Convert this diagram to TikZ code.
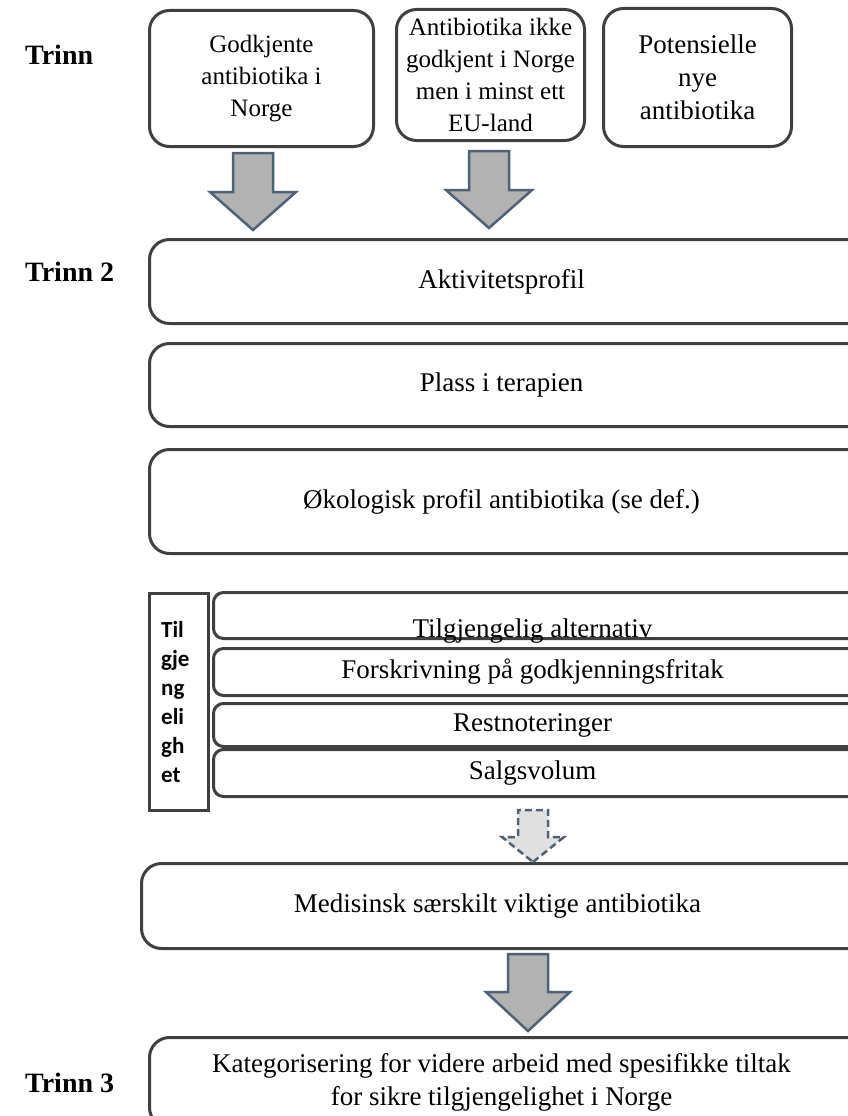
\documentclass[tikz,border=0pt]{standalone}
\usepackage{fontspec}
\setmainfont{Liberation Serif}
\newfontfamily\availfont{Carlito}
\usetikzlibrary{positioning}
\definecolor{boxgray}{rgb}{0.25, 0.25, 0.25}
\definecolor{arrowfill}{rgb}{0.70, 0.70, 0.70}
\definecolor{arrowedge}{rgb}{0.31, 0.38, 0.47}
\definecolor{dashfill}{rgb}{0.88, 0.88, 0.88}
\newcommand{\boxfont}{\fontsize{27}{33}\selectfont}
\newcommand{\srcfont}{\fontsize{25}{32}\selectfont}
\newcommand{\pull}{\hspace*{-22pt}} % the wide boxes run past the right edge, so pull the text back to the visible middle

\tikzset{
    pics/downarrow/.style args={#1/#2/#3/#4}{code={ % length/head/head half width/shaft half width, tip at origin
        \path[pic actions] (0,0) -- (#3,-#2) -- (#4,-#2) -- (#4,-#1) -- (-#4,-#1) -- (-#4,-#2) -- (-#3,-#2) -- cycle;
    }},
}

\begin{document}
\begin{tikzpicture}[x=1pt,y=-1pt,
        stepbox/.style={draw=boxgray,line width=3pt,rounded corners=20pt,fill=white,anchor=north west,inner sep=0pt,align=center,font=\boxfont},
        srcbox/.style={stepbox,font=\srcfont},
        widebox/.style={stepbox,minimum width=726pt},
        stackbox/.style={stepbox,rounded corners=10pt,minimum width=660pt},
        availbox/.style={draw=boxgray,line width=3pt,fill=white,anchor=north west,inner sep=0pt},
        availtext/.style={anchor=north west,align=left,inner sep=0pt,font=\availfont\bfseries\fontsize{23}{29}\selectfont},
        steplabel/.style={anchor=west,inner sep=0pt,font=\bfseries\fontsize{28}{33}\selectfont},
        blockarrow/.style={draw=arrowedge,line width=2.5pt,fill=arrowfill,line join=miter},
        dasharrow/.style={draw=arrowedge,line width=2.5pt,fill=dashfill,dash pattern=on 7pt off 4pt}]
    \useasboundingbox (0,0) rectangle (848,1116);

    % Trinn 1
    \node[steplabel] (t1) at (25,55) {Trinn};
    \node[srcbox,minimum width=224pt,minimum height=136pt] (godk) at (148,9) {Godkjente\\antibiotika i\\Norge};
    \node[srcbox,minimum width=188pt,minimum height=131pt] (eu) at (395,8) {Antibiotika ikke\\godkjent i Norge\\men i minst ett\\EU-land};
    \node[srcbox,font=\boxfont,minimum width=188pt,minimum height=138pt] (nye) at (602,7) {Potensielle\\nye\\antibiotika};

    % Trinn 2
    \node[steplabel] (t2) at (25,272) {Trinn 2};
    \node[widebox,minimum height=84pt] (aktiv) at (148,238) {\pull Aktivitetsprofil};
    \node[widebox,minimum height=83pt] (plass) at (148,342) {\pull Plass i terapien};
    \node[widebox,minimum height=104pt] (okol) at (148,448) {\pull Økologisk profil antibiotika (se def.)};

    \node[availbox,minimum width=59pt,minimum height=217pt] (tilg) at (148,592) {};
    \node[availtext] (tilgtxt) at ([xshift=13pt,yshift=-29pt]tilg.north west) {Til\\gje\\ng\\eli\\gh\\et};
    \node[stackbox,minimum height=46pt,text height=44pt,text depth=0pt] (alt) at (212,591) {\pull Tilgjengelig alternativ};
    \node[stackbox,minimum height=47pt] (forsk) at (212,647) {\pull Forskrivning på godkjenningsfritak};
    \node[stackbox,minimum height=43pt] (rest) at (212,702) {\pull Restnoteringer};
    \node[stackbox,minimum height=47pt] (salg) at (212,748) {\pull Salgsvolum};

    \node[widebox,minimum width=734pt,minimum height=85pt] (med) at (140,862) {\pull Medisinsk særskilt viktige antibiotika};

    % Trinn 3
    \node[steplabel] (t3) at (25,1083) {Trinn 3};
    \node[widebox,minimum height=90pt] (kat) at (148,1036) {\pull Kategorisering for videre arbeid med spesifikke tiltak\\\pull for sikre tilgjengelighet i Norge};

    % arrows
    \path ([xshift=105pt,yshift=8pt]aktiv.north west) pic[blockarrow] {downarrow=77/38/43/20};
    \path ([xshift=341pt,yshift=10pt]aktiv.north west) pic[blockarrow] {downarrow=77/38/43/20};
    \path ([xshift=393pt]med.north west) pic[dasharrow] {downarrow=52/25/31/15};
    \path ([xshift=380pt,yshift=5pt]kat.north west) pic[blockarrow] {downarrow=77/39/42/20};
\end{tikzpicture}
\end{document}
